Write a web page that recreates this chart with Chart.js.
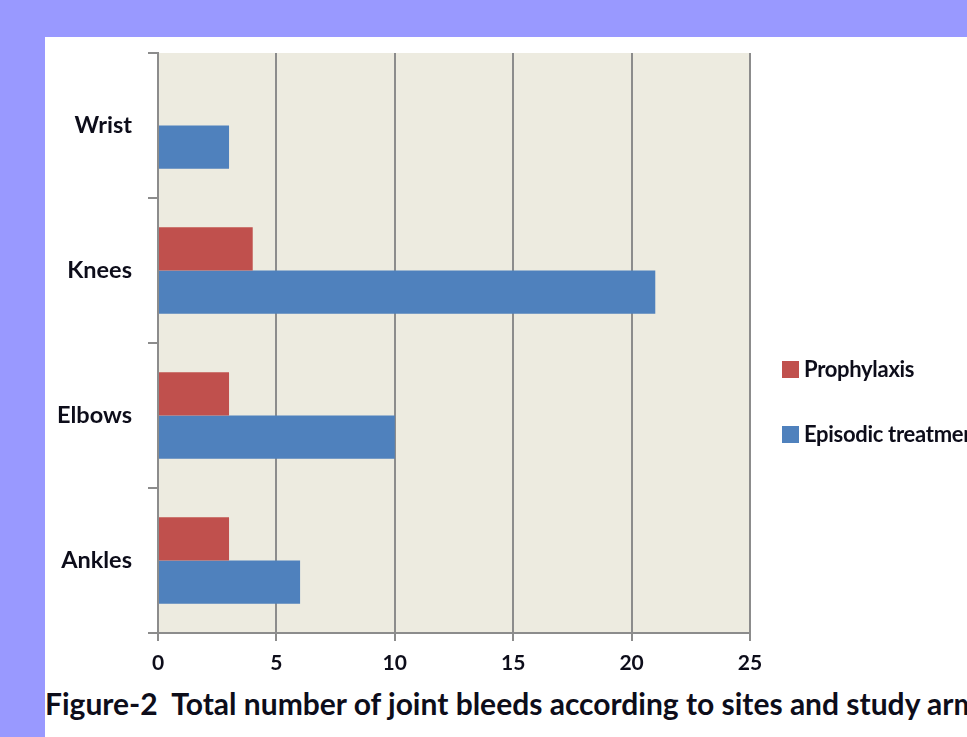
<!DOCTYPE html>
<html>
<head>
<meta charset="utf-8">
<script src="https://cdn.jsdelivr.net/npm/chart.js@4"></script>
<style>
  html, body { margin:0; padding:0; width:967px; height:737px; overflow:hidden; background:#9999ff; }
  #panel { position:absolute; left:45px; top:37px; width:1000px; height:760px; background:#ffffff; }
  #wrap { position:absolute; left:0; top:0; width:922px; height:643px; }
  .leg { position:absolute; left:737px; font-family:Lato, sans-serif; font-weight:bold; font-size:22px; color:#0d0d1a; white-space:nowrap; letter-spacing:-0.3px; }
  .leg span.box { display:inline-block; width:17px; height:17px; vertical-align:middle; margin-right:5px; position:relative; top:-2px; }
  #caption { position:absolute; left:0px; top:648px; font-family:Lato, sans-serif; font-weight:bold; font-size:30px; color:#0d0d1a; white-space:nowrap; }
</style>
</head>
<body>
<div id="panel">
  <div id="wrap"><canvas id="c" width="922" height="643"></canvas></div>
  <div class="leg" id="leg1" style="top:318px;"><span class="box" style="background:#c0504d"></span>Prophylaxis</div>
  <div class="leg" id="leg2" style="top:383px;"><span class="box" style="background:#4f81bd"></span>Episodic treatment</div>
  <div id="caption">Figure-2&nbsp; Total number of joint bleeds according to sites and study arms</div>
</div>
<script>
const categories = ['Wrist', 'Knees', 'Elbows', 'Ankles'];
const prophylaxis = [0, 4, 3, 3];
const episodic = [3, 21, 10, 6];
const seriesNames = ['Prophylaxis', 'Episodic treatment'];
const xTicks = [0, 5, 10, 15, 20, 25];

const plotBg = {
  id: 'plotBg',
  beforeDraw(chart) {
    const a = chart.chartArea, ctx = chart.ctx;
    ctx.save();
    ctx.fillStyle = '#edebe0';
    ctx.fillRect(a.left, a.top, a.right - a.left, a.bottom - a.top);
    ctx.restore();
  }
};

const xFont = { family: 'Lato, sans-serif', weight: 'bold', size: 21 };
const yFont = { family: 'Lato, sans-serif', weight: 'bold', size: 23.5 };

new Chart(document.getElementById('c'), {
  type: 'bar',
  data: {
    labels: categories,
    datasets: [
      { label: seriesNames[0], data: prophylaxis, backgroundColor: '#c0504d', borderWidth: 0 },
      { label: seriesNames[1], data: episodic, backgroundColor: '#4f81bd', borderWidth: 0 }
    ]
  },
  options: {
    indexAxis: 'y',
    responsive: false,
    animation: false,
    events: [],
    layout: { padding: { top: 16, right: 217, left: 0, bottom: 0 } },
    plugins: { legend: { display: false }, tooltip: { enabled: false } },
    datasets: { bar: { categoryPercentage: 0.595, barPercentage: 1.0 } },
    scales: {
      x: {
        min: 0, max: 25,
        afterBuildTicks(s) { s.ticks = xTicks.map(v => ({ value: v })); },
        afterFit(s) { s.height = 47; s.paddingLeft = 0; s.paddingRight = 0; },
        grid: { color: '#8c8c8c', lineWidth: 2, tickLength: 8, drawTicks: true },
        border: { display: true, color: '#8c8c8c', width: 2 },
        ticks: { color: '#0d0d1a', font: xFont, padding: 10 }
      },
      y: {
        afterFit(s) { s.width = 113; s.paddingTop = 0; s.paddingBottom = 0; },
        grid: { drawOnChartArea: false, color: '#8c8c8c', lineWidth: 2, tickLength: 10, offset: true },
        border: { display: true, color: '#8c8c8c', width: 2 },
        ticks: { color: '#0d0d1a', font: yFont, padding: 16 }
      }
    }
  },
  plugins: [plotBg]
});
</script>
</body>
</html>
